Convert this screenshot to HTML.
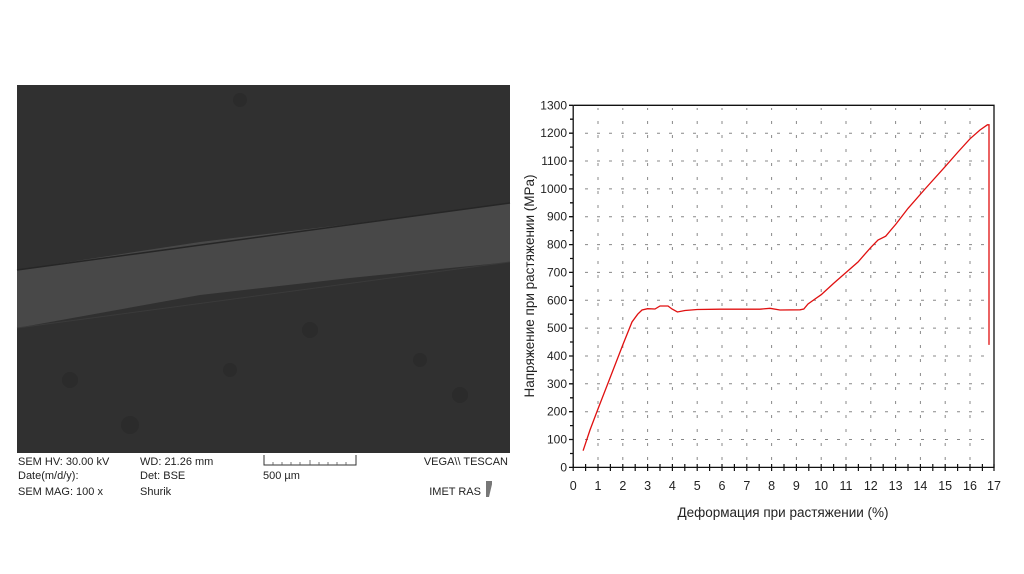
<!DOCTYPE html>
<html><head><meta charset="utf-8"><style>
html,body{margin:0;padding:0;background:#fff;width:1024px;height:574px;overflow:hidden}
svg{display:block}
text{font-family:"Liberation Sans","DejaVu Sans",sans-serif}
</style></head><body>
<svg width="1024" height="574" viewBox="0 0 1024 574" xmlns="http://www.w3.org/2000/svg">
<rect x="0" y="0" width="1024" height="574" fill="#fff"/>
<!-- SEM image -->
<rect x="17" y="85" width="493" height="368" fill="#303030"/>
<polygon points="17,270 200,242 350,224 510,203 510,262 350,278 200,295 17,328" fill="#484848"/>
<line x1="17" y1="270" x2="510" y2="203" stroke="#262626" stroke-width="1.5"/>
<line x1="17" y1="328" x2="510" y2="262" stroke="#3a3a3a" stroke-width="1"/>
<g fill="#2b2b2b">
<circle cx="310" cy="330" r="8"/><circle cx="230" cy="370" r="7"/><circle cx="130" cy="425" r="9"/><circle cx="420" cy="360" r="7"/><circle cx="460" cy="395" r="8"/><circle cx="70" cy="380" r="8"/><circle cx="240" cy="100" r="7"/>
</g>
<!-- SEM info -->
<g font-size="11" fill="#222">
<text x="18" y="465">SEM HV: 30.00 kV</text>
<text x="18" y="479">Date(m/d/y):</text>
<text x="18" y="495">SEM MAG: 100 x</text>
<text x="140" y="465">WD: 21.26 mm</text>
<text x="140" y="479">Det: BSE</text>
<text x="140" y="495">Shurik</text>
<text x="263" y="479">500 µm</text>
<text x="508" y="465" text-anchor="end">VEGA\\ TESCAN</text>
<text x="481" y="495" text-anchor="end">IMET RAS</text>
</g>
<path d="M264,455 V465 H356 V455" fill="none" stroke="#333" stroke-width="1"/>
<g stroke="#555" stroke-width="0.8">
<line x1="273" y1="462" x2="273" y2="465"/><line x1="282" y1="462" x2="282" y2="465"/><line x1="291" y1="462" x2="291" y2="465"/><line x1="300" y1="462" x2="300" y2="465"/><line x1="310" y1="460" x2="310" y2="465"/><line x1="319" y1="462" x2="319" y2="465"/><line x1="328" y1="462" x2="328" y2="465"/><line x1="337" y1="462" x2="337" y2="465"/><line x1="346" y1="462" x2="346" y2="465"/>
</g>
<polygon points="486,481 492,481 492,497 486,497" fill="#777"/>
<polygon points="489,497 493,480 496,480 492,497" fill="#fff"/>
<!-- Chart grid -->
<g stroke="#888" stroke-width="1" stroke-dasharray="3,9">
<line x1="585" y1="439.5" x2="993" y2="439.5"/><line x1="585" y1="411.7" x2="993" y2="411.7"/><line x1="585" y1="383.8" x2="993" y2="383.8"/><line x1="585" y1="356" x2="993" y2="356"/><line x1="585" y1="328.1" x2="993" y2="328.1"/><line x1="585" y1="300.3" x2="993" y2="300.3"/><line x1="585" y1="272.4" x2="993" y2="272.4"/><line x1="585" y1="244.6" x2="993" y2="244.6"/><line x1="585" y1="216.7" x2="993" y2="216.7"/><line x1="585" y1="188.9" x2="993" y2="188.9"/><line x1="585" y1="161" x2="993" y2="161"/><line x1="585" y1="133.2" x2="993" y2="133.2"/>
</g>
<g stroke="#888" stroke-width="1" stroke-dasharray="3,11">
<line x1="598" y1="460" x2="598" y2="108"/><line x1="622.8" y1="460" x2="622.8" y2="108"/><line x1="647.6" y1="460" x2="647.6" y2="108"/><line x1="672.4" y1="460" x2="672.4" y2="108"/><line x1="697.2" y1="460" x2="697.2" y2="108"/><line x1="722" y1="460" x2="722" y2="108"/><line x1="746.8" y1="460" x2="746.8" y2="108"/><line x1="771.6" y1="460" x2="771.6" y2="108"/><line x1="796.4" y1="460" x2="796.4" y2="108"/><line x1="821.2" y1="460" x2="821.2" y2="108"/><line x1="846" y1="460" x2="846" y2="108"/><line x1="870.8" y1="460" x2="870.8" y2="108"/><line x1="895.6" y1="460" x2="895.6" y2="108"/><line x1="920.4" y1="460" x2="920.4" y2="108"/><line x1="945.2" y1="460" x2="945.2" y2="108"/><line x1="970" y1="460" x2="970" y2="108"/>
</g>
<!-- axes frame -->
<path d="M573.2,105.3 V467.4 H994 V105.3 H573.2" fill="none" stroke="#111" stroke-width="1.3"/>
<g stroke="#111" stroke-width="1.3">
<path d="M569,467.4h4M569,439.5h4M569,411.7h4M569,383.8h4M569,356h4M569,328.1h4M569,300.3h4M569,272.4h4M569,244.6h4M569,216.7h4M569,188.9h4M569,161h4M569,133.2h4M569,105.3h4"/>
<path d="M570,453.5h3M570,425.6h3M570,397.8h3M570,369.9h3M570,342h3M570,314.2h3M570,286.3h3M570,258.5h3M570,230.6h3M570,202.8h3M570,174.9h3M570,147.1h3M570,119.2h3"/>
</g>
<g stroke="#111" stroke-width="1.2">
<path d="M573.2,464v7M585.6,464v7M598,464v7M610.4,464v7M622.8,464v7M635.2,464v7M647.6,464v7M660,464v7M672.4,464v7M684.8,464v7M697.2,464v7M709.6,464v7M722,464v7M734.4,464v7M746.8,464v7M759.2,464v7M771.6,464v7M784,464v7M796.4,464v7M808.8,464v7M821.2,464v7M833.6,464v7M846,464v7M858.4,464v7M870.8,464v7M883.2,464v7M895.6,464v7M908,464v7M920.4,464v7M932.8,464v7M945.2,464v7M957.6,464v7M970,464v7M982.4,464v7M994,464v7"/>
</g>
<g font-size="12" fill="#222" text-anchor="end">
<text x="567" y="471.5">0</text><text x="567" y="443.5">100</text><text x="567" y="415.7">200</text><text x="567" y="387.8">300</text><text x="567" y="360">400</text><text x="567" y="332.1">500</text><text x="567" y="304.3">600</text><text x="567" y="276.4">700</text><text x="567" y="248.6">800</text><text x="567" y="220.7">900</text><text x="567" y="192.9">1000</text><text x="567" y="165">1100</text><text x="567" y="137.2">1200</text><text x="567" y="109.3">1300</text>
</g>
<g font-size="12.5" fill="#222" text-anchor="middle">
<text x="573.2" y="490">0</text><text x="598" y="490">1</text><text x="622.8" y="490">2</text><text x="647.6" y="490">3</text><text x="672.4" y="490">4</text><text x="697.2" y="490">5</text><text x="722" y="490">6</text><text x="746.8" y="490">7</text><text x="771.6" y="490">8</text><text x="796.4" y="490">9</text><text x="821.2" y="490">10</text><text x="846" y="490">11</text><text x="870.8" y="490">12</text><text x="895.6" y="490">13</text><text x="920.4" y="490">14</text><text x="945.2" y="490">15</text><text x="970" y="490">16</text><text x="994" y="490">17</text>
</g>
<text x="783" y="517" font-size="13.5" fill="#222" text-anchor="middle">Деформация при растяжении (%)</text>
<text transform="translate(534,286) rotate(-90)" font-size="13.5" fill="#222" text-anchor="middle">Напряжение при растяжении (MPa)</text>
<polyline fill="none" stroke="#e01010" stroke-width="1.3" points="583.1,450.7 590,430 598,408.9 610,378 622.8,344.9 632,322 637.7,314.2 642,310 647.6,308.7 655,309 660,306 668,306 672,309 677.4,312 685,310.5 697.2,309.5 720,309.2 760,309.2 770,308.3 780,310 800,309.8 803.8,309 808,304 815,299 821.2,294.7 834,283 846,272.5 858,262 870.8,247.4 878,240 885.7,236.2 896,224 908,208.4 925,189 945.2,166.6 958,152 970,138.8 980,130 987.4,124.8 989,124.8 989,344.9"/>
</svg>
</body></html>
